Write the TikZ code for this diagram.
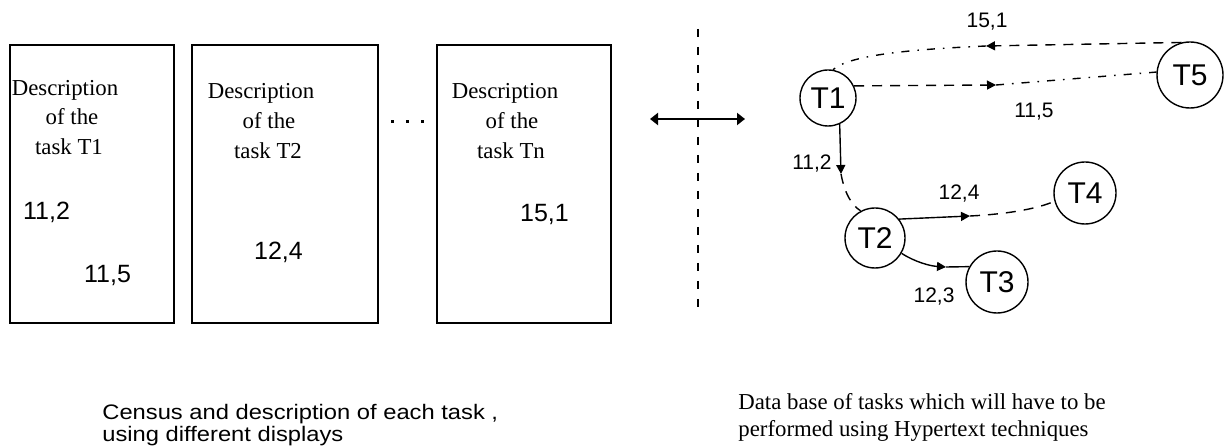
\documentclass[tikz,border=0pt]{standalone}
\usepackage{fontspec}
\setmainfont{Liberation Serif}
\newfontfamily\pixfont{Liberation Sans}
\newfontfamily\capfont[FakeStretch=1.13]{Liberation Sans}
\usetikzlibrary{arrows.meta}
\begin{document}
\begin{tikzpicture}[x=0.5pt,y=-0.5pt,
  box/.style={draw,line width=1pt,inner sep=0pt,anchor=north west},
  desc/.style={anchor=base,inner sep=0pt,font=\fontsize{11.4}{14}\selectfont},
  num/.style={anchor=base,inner sep=0pt,font=\pixfont\fontsize{12.5}{14}\selectfont},
  lab/.style={anchor=base,inner sep=0pt,font=\pixfont\fontsize{10.5}{12}\selectfont},
  caption/.style={anchor=base west,inner sep=0pt,font=\capfont\fontsize{10.5}{12}\selectfont},
  serifcap/.style={anchor=base west,inner sep=0pt,font=\fontsize{11.4}{14}\selectfont},
  task/.style={circle,draw,line width=0.7pt,inner sep=0pt,font=\pixfont\fontsize{15}{16}\selectfont},
  tip/.style={-{Triangle[length=4.5pt,width=4.5pt]}},
  link/.style={line width=0.7pt},
  dsh/.style={dash pattern=on 5pt off 4pt},
  ddot/.style={dash pattern=on 4pt off 4pt on 0.8pt off 4pt},
]
\useasboundingbox (0,0) rectangle (1226,448);

% boxes
\node[box,minimum width=82pt,minimum height=139pt] (B1) at (9,44) {};
\node[box,minimum width=93pt,minimum height=139pt] (B2) at (191,44) {};
\node[box,minimum width=87pt,minimum height=139pt] (B3) at (436,44) {};

\node[desc] (d1a) at (65,96) {Description};
\node[desc] (d1b) at (72,125) {of the};
\node[desc] (d1c) at (69,155) {task T1};
\node[num] (n1a) at (46.5,220) {11,2};
\node[num] (n1b) at (107.5,283) {11,5};

\node[desc] (d2a) at (261,99) {Description};
\node[desc] (d2b) at (269,129) {of the};
\node[desc] (d2c) at (268,159) {task T2};
\node[num] (n2a) at (278.5,260) {12,4};

\node[desc] (d3a) at (505,99) {Description};
\node[desc] (d3b) at (512,129) {of the};
\node[desc] (d3c) at (511,159) {task Tn};
\node[num] (n3a) at (544.5,222) {15,1};

% ellipsis dots
\fill (390.5,120.5) rectangle (393.5,123.5);
\fill (405.5,120.5) rectangle (408.5,123.5);
\fill (421,120.5) rectangle (424,123.5);

% separator and double arrow
\coordinate (sepT) at (698,29);
\coordinate (sepB) at (698,313);
\draw[line width=1pt,dash pattern=on 4pt off 5pt] (sepT) -- (sepB);
\coordinate (dl) at (650,119);
\coordinate (dr) at (745,119);
\draw[line width=1pt,{Triangle[length=4pt,width=6pt]}-{Triangle[length=4pt,width=6pt]}] (dl) -- (dr);

% task graph
\node[task,minimum size=28pt] (T1) at (828,98) {T1};
\node[task,minimum size=30pt] (T2) at (875,238) {T2};
\node[task,minimum size=31pt] (T3) at (997,282) {T3};
\node[task,minimum size=31pt] (T4) at (1085,193) {T4};
\node[task,minimum size=33pt] (T5) at (1190,75) {T5};

\coordinate (a15) at (996,85);
\draw[link,dsh,tip] (T1.25) -- (a15);
\draw[link,ddot] (a15) -- (T5.175);

\coordinate (a51) at (986,46);
\draw[link,dsh,tip] (T5.105) -- (a51);
\draw[link,ddot] (a51) .. controls (920,49) and (850,54) .. (T1.80);

\coordinate (a12) at (841,174);
\draw[link,tip] (T1.-66) -- (a12);
\draw[link,dsh] (a12) .. controls (845,195) and (852,205) .. (T2.118);

\coordinate (a24) at (970,216);
\draw[link,tip] (T2.38) -- (a24);
\draw[link,dsh] (a24) .. controls (1010,214) and (1040,208) .. (T4.195);

\coordinate (a23) at (946,267);
\draw[link,tip] (T2.-30) .. controls (915,262) and (930,266) .. (a23);
\draw[link] (a23) -- (T3.151);

\node[lab] (l151) at (987,28) {15,1};
\node[lab] (l115) at (1034,118) {11,5};
\node[lab] (l112) at (812,170) {11,2};
\node[lab] (l124) at (959,200) {12,4};
\node[lab] (l123) at (934,303) {12,3};

% captions
\node[caption] (c1) at (102,420) {Census and description of each task ,};
\node[caption] (c2) at (102,442) {using different displays};
\node[serifcap] (h1) at (738,410) {Data base of tasks which will have to be};
\node[serifcap] (h2) at (738,437) {performed using Hypertext techniques};
\end{tikzpicture}
\end{document}
